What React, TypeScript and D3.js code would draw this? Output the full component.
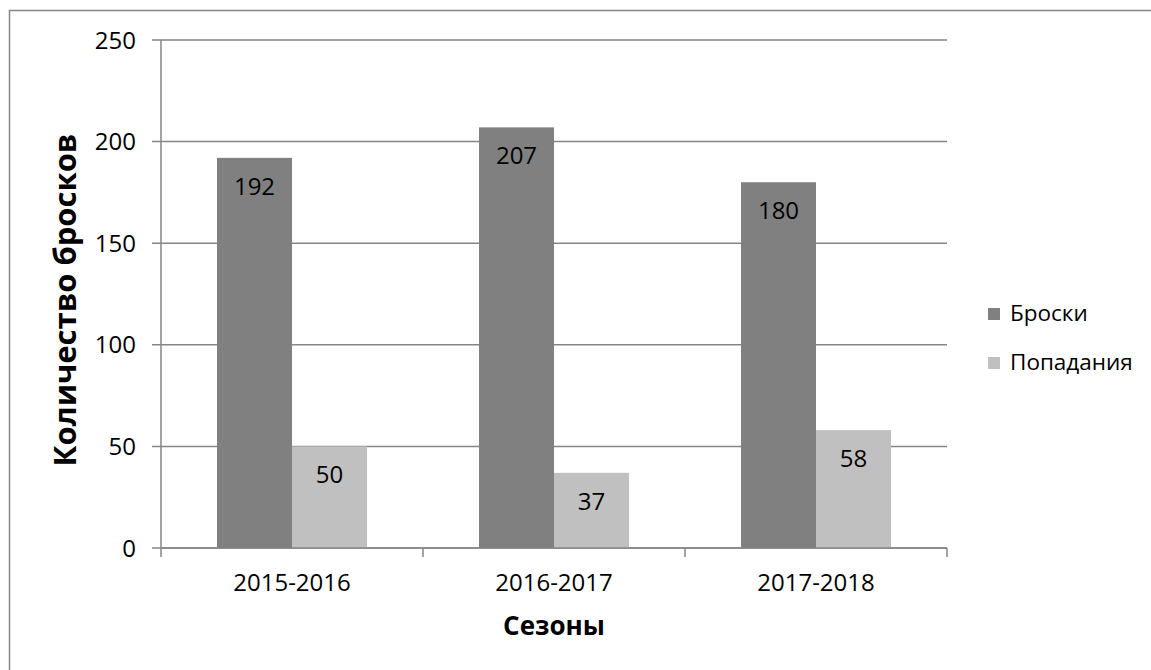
import React from "react";
import * as d3 from "d3";

const categories = ["2015-2016", "2016-2017", "2017-2018"];
const seriesNames = ["Броски", "Попадания"];
const throwsValues = [192, 207, 180];
const hitsValues = [50, 37, 58];
const yTicks = [0, 50, 100, 150, 200, 250];
const colors = ["#808080", "#c0c0c0"];

const FONT = "'Open Sans', 'Noto Sans', sans-serif";

export default function App() {
  const W = 1151, H = 670;
  const left = 161, right = 947, top = 40, bottom = 548;
  const x0 = d3.scaleBand().domain(categories).range([left, right]).paddingInner(0).paddingOuter(0);
  const y = d3.scaleLinear().domain([0, 250]).range([bottom, top]);
  const groupW = 150;
  const x1 = d3.scaleBand().domain(seriesNames).range([0, groupW]).padding(0);
  const series = [throwsValues, hitsValues];
  const boundaries = [...categories.map((c) => x0(c) as number), right];

  return (
    <svg width={W} height={H} style={{ position: "absolute", left: 0, top: 0 }} fontFamily={FONT}>
      <rect x={0} y={0} width={W} height={H} fill="#fff" />
      <rect x={9.5} y={10.5} width={1300} height={1000} fill="none" stroke="#868686" strokeWidth={1.5} />
      {/* gridlines */}
      {yTicks.map((t) => (
        <line key={"g" + t} x1={left - 9} x2={right} y1={y(t)} y2={y(t)} stroke="#868686" strokeWidth={1.5} />
      ))}
      {/* bars */}
      {categories.map((c, i) => {
        const gx = (x0(c) as number) + (x0.bandwidth() - groupW) / 2;
        return seriesNames.map((s, j) => {
          const v = series[j][i];
          const bx = gx + (x1(s) as number);
          return (
            <g key={c + s}>
              <rect x={bx} y={y(v)} width={x1.bandwidth()} height={bottom - y(v)} fill={colors[j]} />
              <text x={bx + x1.bandwidth() / 2} y={y(v) + 37} textAnchor="middle" fontSize={24} fill="#000">
                {v}
              </text>
            </g>
          );
        });
      })}
      {/* axes */}
      <line x1={left} x2={left} y1={top} y2={bottom} stroke="#868686" strokeWidth={1.5} />
      <line x1={left} x2={right} y1={bottom} y2={bottom} stroke="#868686" strokeWidth={1.5} />
      {boundaries.map((bx, i) => (
        <line key={"xt" + i} x1={bx} x2={bx} y1={bottom} y2={bottom + 9} stroke="#868686" strokeWidth={1.5} />
      ))}
      {yTicks.map((t) => (
        <text key={"yl" + t} x={136} y={y(t)} dy="0.36em" textAnchor="end" fontSize={24} fill="#000">
          {t}
        </text>
      ))}
      {categories.map((c) => (
        <text key={"xl" + c} x={(x0(c) as number) + x0.bandwidth() / 2} y={591} textAnchor="middle" fontSize={24} fill="#000">
          {c}
        </text>
      ))}
      <text x={(left + right) / 2} y={635} textAnchor="middle" fontSize={26} fontWeight="bold" fill="#000">
        Сезоны
      </text>
      <text
        transform={`translate(76, ${(top + bottom) / 2 + 6}) rotate(-90)`}
        textAnchor="middle"
        fontSize={31}
        fontWeight="bold"
        fill="#000"
      >
        Количество бросков
      </text>
      {/* legend */}
      {seriesNames.map((s, j) => (
        <g key={"lg" + s} transform={`translate(988, ${308 + j * 49})`}>
          <rect x={0} y={0} width={12} height={12} fill={colors[j]} />
          <text x={22} y={13} fontSize={22.5} fill="#000">
            {s}
          </text>
        </g>
      ))}
    </svg>
  );
}
